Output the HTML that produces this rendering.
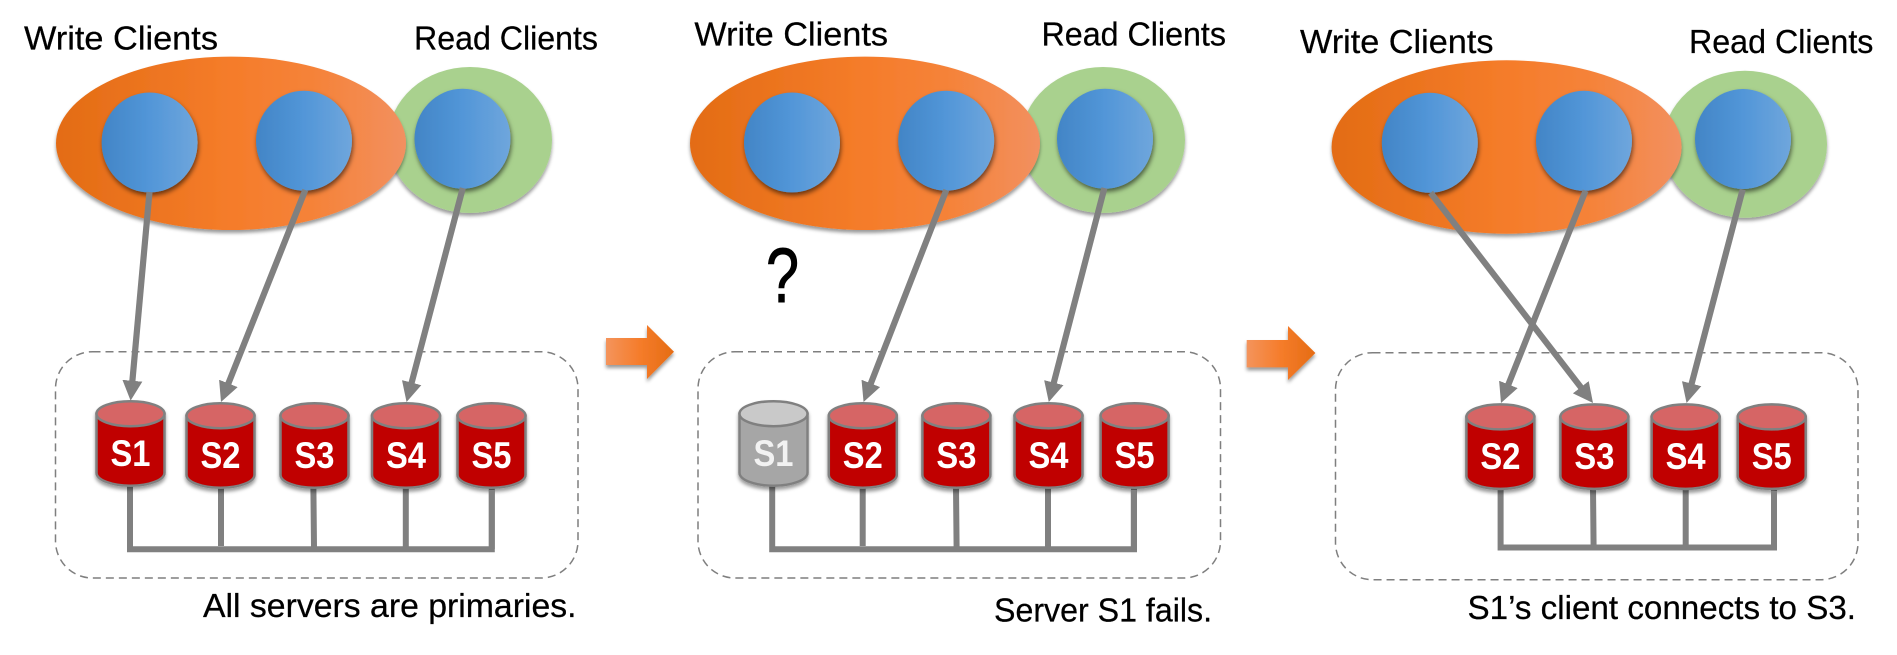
<!DOCTYPE html>
<html>
<head>
<meta charset="utf-8">
<style>
html,body{margin:0;padding:0;background:#fff;width:1897px;height:655px;overflow:hidden}
svg{display:block}
text{font-family:"Liberation Sans",sans-serif}
.l{font-size:33px;fill:#000;stroke:#000;stroke-width:.25px}
.s{font-size:37px;font-weight:bold;fill:#fff;text-anchor:middle}
</style>
</head>
<body>
<svg xmlns="http://www.w3.org/2000/svg" width="1897" height="655" viewBox="0 0 1897 655">
<defs>
<linearGradient id="o"><stop offset="0" stop-color="#e36c14"/><stop offset=".5" stop-color="#f57c2a"/><stop offset=".75" stop-color="#f5833a"/><stop offset="1" stop-color="#f29060"/></linearGradient>
<linearGradient id="b"><stop offset="0" stop-color="#4285c6"/><stop offset=".5" stop-color="#5296d8"/><stop offset="1" stop-color="#6fa6dc"/></linearGradient>
<linearGradient id="ar"><stop offset="0" stop-color="#f4945c"/><stop offset=".5" stop-color="#f57c2a"/><stop offset="1" stop-color="#e56c14"/></linearGradient>
<filter id="sh" x="-20%" y="-20%" width="140%" height="140%"><feDropShadow dx="0" dy="3" stdDeviation="1.8" flood-color="#000" flood-opacity=".4"/></filter>
<filter id="sh2" x="-20%" y="-20%" width="140%" height="140%"><feDropShadow dx="1" dy="3" stdDeviation="2.5" flood-color="#000" flood-opacity=".55"/></filter>
<marker id="m" markerUnits="userSpaceOnUse" markerWidth="20" markerHeight="20" viewBox="0 0 20 20" refX="10" refY="10" orient="auto"><path d="M0,0L20,10L0,20z" fill="#808080"/></marker>
<g id="cy" filter="url(#sh)">
<path d="M-34,13V72A34,13 0 0 0 34,72V13z" fill="#c00000" stroke="#808080" stroke-width="2.5"/>
<ellipse cx="0" cy="13" rx="34" ry="12.5" fill="#d66565" stroke="#808080" stroke-width="2.5"/>
</g>
<g id="cg" filter="url(#sh)">
<path d="M-34,13V72A34,13 0 0 0 34,72V13z" fill="#a6a6a6" stroke="#808080" stroke-width="2.5"/>
<ellipse cx="0" cy="13" rx="34" ry="12.5" fill="#c9c9c9" stroke="#808080" stroke-width="2.5"/>
</g>
</defs>

<g fill="none" stroke="#7f7f7f" stroke-width="1.5" stroke-dasharray="8 5">
<rect x="55.5" y="351.7" width="522.5" height="226.3" rx="37" ry="37"/>
<rect x="698" y="351.7" width="522.5" height="226.3" rx="37" ry="37"/>
<rect x="1335.5" y="352.7" width="522.5" height="227" rx="37" ry="37"/>
</g>

<!-- panel 1 -->
<ellipse cx="470" cy="140" rx="82" ry="73" fill="#a9d18e" filter="url(#sh)"/>
<ellipse cx="231" cy="143.3" rx="175" ry="86.7" fill="url(#o)" filter="url(#sh)"/>
<ellipse cx="149.6" cy="142.5" rx="48" ry="50" fill="url(#b)" filter="url(#sh2)"/>
<ellipse cx="304" cy="140.7" rx="48" ry="50" fill="url(#b)" filter="url(#sh2)"/>
<ellipse cx="462.5" cy="138.7" rx="48" ry="50" fill="url(#b)" filter="url(#sh2)"/>
<text class="l" x="24" y="49.3" textLength="194" lengthAdjust="spacingAndGlyphs">Write Clients</text>
<text class="l" x="414" y="49.3" textLength="184" lengthAdjust="spacingAndGlyphs">Read Clients</text>

<g stroke="#808080" stroke-width="6" fill="none">
<path d="M130,484V549.3H491.8V488"/>
<path d="M221,488V546M313.4,488L314,547M405.8,488V547"/>
</g>
<use href="#cy" x="130.5" y="400.7"/>
<use href="#cy" x="220.5" y="402.7"/>
<use href="#cy" x="314.5" y="402.7"/>
<use href="#cy" x="406" y="402.7"/>
<use href="#cy" x="491.5" y="402.7"/>
<path d="M491.8,490V549" stroke="#808080" stroke-width="6"/>
<text class="s" x="130.5" y="466" textLength="40" lengthAdjust="spacingAndGlyphs">S1</text>
<text class="s" x="220.5" y="468" textLength="40" lengthAdjust="spacingAndGlyphs">S2</text>
<text class="s" x="314.5" y="468" textLength="40" lengthAdjust="spacingAndGlyphs">S3</text>
<text class="s" x="406" y="468" textLength="40" lengthAdjust="spacingAndGlyphs">S4</text>
<text class="s" x="491.5" y="468" textLength="40" lengthAdjust="spacingAndGlyphs">S5</text>
<g stroke="#808080" stroke-width="6.2" fill="none">
<line x1="149.5" y1="192" x2="131.5" y2="390.7" marker-end="url(#m)"/>
<line x1="305.3" y1="190" x2="224.7" y2="392.7" marker-end="url(#m)"/>
<line x1="462.8" y1="188" x2="409.1" y2="392.3" marker-end="url(#m)"/>
</g>
<text class="l" x="203" y="617" textLength="373.5" lengthAdjust="spacingAndGlyphs">All servers are primaries.</text>
<polygon points="606,338 647,338 647,325 674,351.7 647,379 647,365 606,365" fill="url(#ar)" filter="url(#sh)"/>

<!-- panel 2 -->
<ellipse cx="1103" cy="140" rx="82" ry="73" fill="#a9d18e" filter="url(#sh)"/>
<ellipse cx="865" cy="143.3" rx="175" ry="86.7" fill="url(#o)" filter="url(#sh)"/>
<ellipse cx="792" cy="142.5" rx="48" ry="50" fill="url(#b)" filter="url(#sh2)"/>
<ellipse cx="946.2" cy="140.7" rx="48" ry="50" fill="url(#b)" filter="url(#sh2)"/>
<ellipse cx="1105" cy="138.7" rx="48" ry="50" fill="url(#b)" filter="url(#sh2)"/>
<text class="l" x="694.4" y="45.7" textLength="193.6" lengthAdjust="spacingAndGlyphs">Write Clients</text>
<text class="l" x="1041.5" y="45.7" textLength="184.5" lengthAdjust="spacingAndGlyphs">Read Clients</text>
<text x="782.5" y="302" text-anchor="middle" textLength="33" lengthAdjust="spacingAndGlyphs" style="font-size:77px;fill:#000;stroke:#000;stroke-width:1px">?</text>

<g stroke="#808080" stroke-width="6" fill="none">
<path d="M772.2,484V549.3H1134V488"/>
<path d="M862.7,488V546M956,488L956.6,547M1048,488V547"/>
</g>
<use href="#cg" x="773.5" y="400.7"/>
<use href="#cy" x="862.8" y="402.7"/>
<use href="#cy" x="956.4" y="402.7"/>
<use href="#cy" x="1048.5" y="402.7"/>
<use href="#cy" x="1134.6" y="402.7"/>
<path d="M1133.8,490V549" stroke="#808080" stroke-width="6"/>
<text class="s" x="773.5" y="466" textLength="40" lengthAdjust="spacingAndGlyphs" style="fill:#f2f2f2">S1</text>
<text class="s" x="862.8" y="468" textLength="40" lengthAdjust="spacingAndGlyphs">S2</text>
<text class="s" x="956.4" y="468" textLength="40" lengthAdjust="spacingAndGlyphs">S3</text>
<text class="s" x="1048.5" y="468" textLength="40" lengthAdjust="spacingAndGlyphs">S4</text>
<text class="s" x="1134.6" y="468" textLength="40" lengthAdjust="spacingAndGlyphs">S5</text>
<g stroke="#808080" stroke-width="6.2" fill="none">
<line x1="946.3" y1="190" x2="867.2" y2="392.7" marker-end="url(#m)"/>
<line x1="1104.4" y1="188" x2="1051.3" y2="392.3" marker-end="url(#m)"/>
</g>
<text class="l" x="994" y="621.7" textLength="218" lengthAdjust="spacingAndGlyphs">Server S1 fails.</text>
<polygon points="1246.7,340 1288,340 1288,326 1315.4,353 1288,380 1288,367.4 1246.7,367.4" fill="url(#ar)" filter="url(#sh)"/>

<!-- panel 3 -->
<ellipse cx="1745" cy="144.3" rx="82" ry="73.5" fill="#a9d18e" filter="url(#sh)"/>
<ellipse cx="1506.6" cy="147" rx="175" ry="86.7" fill="url(#o)" filter="url(#sh)"/>
<ellipse cx="1429.8" cy="142.8" rx="48" ry="50" fill="url(#b)" filter="url(#sh2)"/>
<ellipse cx="1584" cy="140.8" rx="48" ry="50" fill="url(#b)" filter="url(#sh2)"/>
<ellipse cx="1743" cy="139" rx="48" ry="50" fill="url(#b)" filter="url(#sh2)"/>
<text class="l" x="1300" y="52.8" textLength="193.5" lengthAdjust="spacingAndGlyphs">Write Clients</text>
<text class="l" x="1689" y="52.8" textLength="184.4" lengthAdjust="spacingAndGlyphs">Read Clients</text>

<g stroke="#808080" stroke-width="6" fill="none">
<path d="M1500.6,486V547.5H1774V490"/>
<path d="M1593,488L1593.6,547M1685.7,488V547"/>
</g>
<use href="#cy" x="1500.4" y="403.9"/>
<use href="#cy" x="1594.4" y="403.9"/>
<use href="#cy" x="1685.6" y="403.9"/>
<use href="#cy" x="1771.7" y="403.9"/>
<path d="M1774,491V547" stroke="#808080" stroke-width="6"/>
<text class="s" x="1500.4" y="469" textLength="40" lengthAdjust="spacingAndGlyphs">S2</text>
<text class="s" x="1594.4" y="469" textLength="40" lengthAdjust="spacingAndGlyphs">S3</text>
<text class="s" x="1685.6" y="469" textLength="40" lengthAdjust="spacingAndGlyphs">S4</text>
<text class="s" x="1771.7" y="469" textLength="40" lengthAdjust="spacingAndGlyphs">S5</text>
<g stroke="#808080" stroke-width="6.2" fill="none">
<line x1="1430.6" y1="192.7" x2="1586.9" y2="395.1" marker-end="url(#m)"/>
<line x1="1585.6" y1="190.6" x2="1504.7" y2="393.7" marker-end="url(#m)"/>
<line x1="1742.7" y1="189.4" x2="1689.1" y2="393.3" marker-end="url(#m)"/>
</g>
<text class="l" x="1467.5" y="618.8" textLength="388.5" lengthAdjust="spacingAndGlyphs">S1’s client connects to S3.</text>
</svg>
</body>
</html>
